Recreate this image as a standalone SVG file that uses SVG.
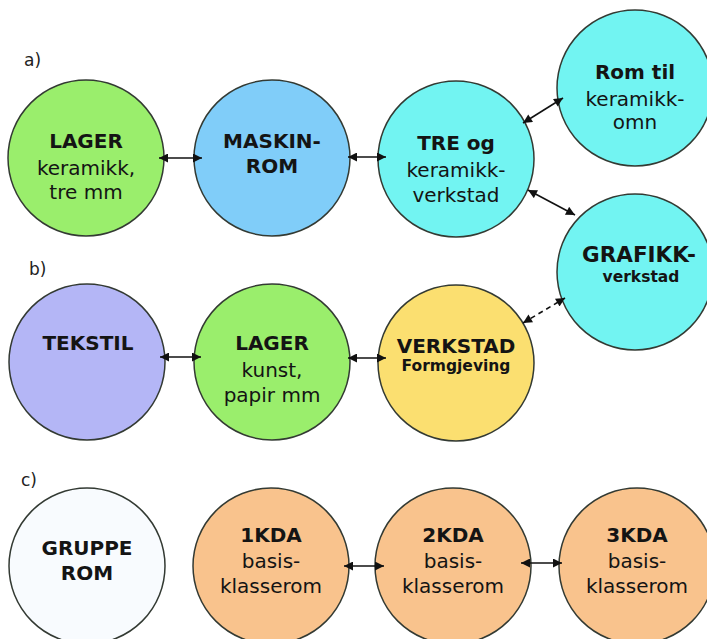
<svg xmlns="http://www.w3.org/2000/svg" width="707" height="639" viewBox="0 0 707 639">
<defs>
<style>
.c{stroke:#333a33;stroke-width:1.5}
.t{font-family:"DejaVu Sans",Verdana,sans-serif;fill:#141414;text-anchor:middle;font-size:20px}
.b{font-weight:bold}
.s{font-size:15.5px;font-weight:bold}
.lbl{font-family:"DejaVu Sans",Verdana,sans-serif;fill:#222;font-size:17px}
.e{stroke:#111;stroke-width:1.6;fill:none;marker-start:url(#ah);marker-end:url(#ah)}
.d{stroke-dasharray:5 4}
</style>
<marker id="ah" viewBox="0 0 10 10" refX="10" refY="5" markerWidth="10" markerHeight="9" markerUnits="userSpaceOnUse" orient="auto-start-reverse">
<path d="M0,0 L10,5 L0,10 z" fill="#111"/>
</marker>
</defs>
<rect width="707" height="639" fill="#fff"/>
<text class="lbl" x="24" y="66">a)</text>
<text class="lbl" x="29" y="275">b)</text>
<text class="lbl" x="21" y="486">c)</text>
<g id="lager-a"><circle class="c" cx="86" cy="158" r="78" fill="#9aee6c"/>
<text class="t b" x="86" y="148">LAGER</text><text class="t" x="86" y="175">keramikk,</text><text class="t" x="86" y="199">tre mm</text></g>
<g id="maskinrom"><circle class="c" cx="272" cy="158" r="78" fill="#80cdf9"/>
<text class="t b" x="272" y="148">MASKIN-</text><text class="t b" x="272" y="173">ROM</text></g>
<g id="tre"><circle class="c" cx="456" cy="159" r="78" fill="#72f4f2"/>
<text class="t b" x="456" y="150">TRE og</text><text class="t" x="456" y="177">keramikk-</text><text class="t" x="456" y="202">verkstad</text></g>
<g id="romtil"><circle class="c" cx="635" cy="88" r="78" fill="#72f4f2"/>
<text class="t b" x="635" y="79">Rom til</text><text class="t" x="635" y="106">keramikk-</text><text class="t" x="635" y="129">omn</text></g>
<g id="grafikk"><circle class="c" cx="635" cy="272" r="78" fill="#72f4f2"/>
<text class="t b" x="639" y="262" style="font-size:21.5px">GRAFIKK-</text><text class="t s" x="641" y="282">verkstad</text></g>
<g id="tekstil"><circle class="c" cx="87" cy="362" r="78" fill="#b4b6f6"/>
<text class="t b" x="88" y="350">TEKSTIL</text></g>
<g id="lager-b"><circle class="c" cx="272" cy="362" r="78" fill="#9aee6c"/>
<text class="t b" x="272" y="350">LAGER</text><text class="t" x="272" y="377">kunst,</text><text class="t" x="272" y="402">papir mm</text></g>
<g id="verkstad"><circle class="c" cx="456" cy="363" r="78" fill="#fbdf70"/>
<text class="t b" x="456" y="353">VERKSTAD</text><text class="t s" x="456" y="371">Formgjeving</text></g>
<g id="gruppe"><circle class="c" cx="87" cy="566" r="78" fill="#f8fbfe"/>
<text class="t b" x="87" y="555">GRUPPE</text><text class="t b" x="87" y="580">ROM</text></g>
<g id="kda1"><circle class="c" cx="271" cy="566" r="78" fill="#f9c38d"/>
<text class="t b" x="271" y="542">1KDA</text><text class="t" x="271" y="568">basis-</text><text class="t" x="271" y="593">klasserom</text></g>
<g id="kda2"><circle class="c" cx="453" cy="566" r="78" fill="#f9c38d"/>
<text class="t b" x="453" y="542">2KDA</text><text class="t" x="453" y="568">basis-</text><text class="t" x="453" y="593">klasserom</text></g>
<g id="kda3"><circle class="c" cx="637" cy="566" r="78" fill="#f9c38d"/>
<text class="t b" x="637" y="542">3KDA</text><text class="t" x="637" y="568">basis-</text><text class="t" x="637" y="593">klasserom</text></g>
<g id="connectors">
<line class="e" x1="159" y1="158" x2="202" y2="158"/>
<line class="e" x1="348" y1="157" x2="386" y2="157"/>
<line class="e" x1="523" y1="123" x2="563" y2="98"/>
<line class="e" x1="528" y1="190" x2="575" y2="215"/>
<line class="e d" x1="523" y1="323" x2="565" y2="298"/>
<line class="e" x1="160" y1="357" x2="201" y2="357"/>
<line class="e" x1="348" y1="358" x2="386" y2="358"/>
<line class="e" x1="344" y1="566" x2="384" y2="566"/>
<line class="e" x1="521" y1="563" x2="562" y2="563"/>
</g>
</svg>
